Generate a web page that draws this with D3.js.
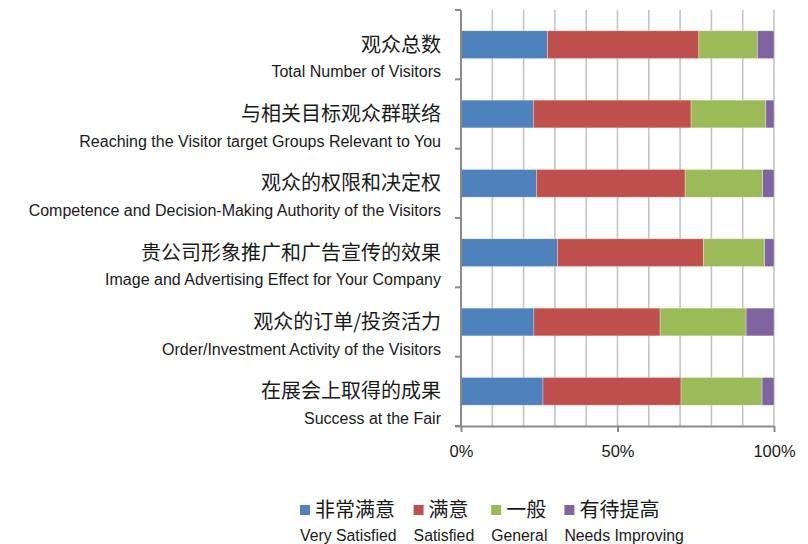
<!DOCTYPE html>
<html><head><meta charset="utf-8">
<script src="https://cdn.jsdelivr.net/npm/d3@7"></script>
<style>
html,body{margin:0;padding:0;background:#fff;}
svg{display:block;}
</style></head>
<body>
<svg id="chart" width="808" height="544"></svg>
<script>
const categoriesZh = ["观众总数","与相关目标观众群联络","观众的权限和决定权","贵公司形象推广和广告宣传的效果","观众的订单/投资活力","在展会上取得的成果"];
const categoriesEn = ["Total Number of Visitors","Reaching the Visitor target Groups Relevant to You","Competence and Decision-Making Authority of the Visitors","Image and Advertising Effect for Your Company","Order/Investment Activity of the Visitors","Success at the Fair"];
const seriesZh = ["非常满意","满意","一般","有待提高"];
const seriesEn = ["Very Satisfied","Satisfied","General","Needs Improving"];
const verySatisfied = [27.6, 23.1, 24.1, 30.8, 23.3, 26.2];
const satisfied     = [48.4, 50.4, 47.5, 46.6, 40.3, 44.1];
const general       = [18.7, 23.9, 24.8, 19.6, 27.5, 25.9];
const needsImproving= [5.3, 2.6, 3.6, 3.0, 8.9, 3.8];
const xTickValues = [0, 0.5, 1];
const colors = ["#4F81BD","#C0504D","#9BBB59","#8064A2"];

const seriesValues = [verySatisfied, satisfied, general, needsImproving];
const keys = seriesZh;
const rows = categoriesZh.map((c,i)=>{
  const r = {cat:c};
  keys.forEach((k,j)=> r[k]=seriesValues[j][i]);
  return r;
});

const svg = d3.select("#chart");
const pL = 461, pR = 774, pT = 10, pB = 426;
const x = d3.scaleLinear().domain([0,1]).range([pL,pR]);
const y = d3.scaleBand().domain(categoriesZh).range([pT,pB]).paddingInner(0.6).paddingOuter(0.3);
const color = d3.scaleOrdinal().domain(keys).range(colors);
const enFont = "'Liberation Sans', Arial, sans-serif";
const zhFont = "'Noto Sans CJK SC', sans-serif";

// gridlines
svg.append("g").selectAll("line").data(d3.range(1,11).map(d=>d/10)).join("line")
  .attr("x1",d=>x(d)).attr("x2",d=>x(d)).attr("y1",pT).attr("y2",pB)
  .attr("stroke","#c4c4c4").attr("stroke-width",1.6);

// bars
const stack = d3.stack().keys(keys).offset(d3.stackOffsetExpand);
const stacked = stack(rows);
svg.append("g").selectAll("g").data(stacked).join("g")
  .attr("fill",d=>color(d.key))
  .selectAll("rect").data(d=>d).join("rect")
  .attr("x",d=>x(d[0])).attr("width",d=>x(d[1])-x(d[0]))
  .attr("y",d=>y(d.data.cat)).attr("height",y.bandwidth())
  .attr("stroke","#ffffff").attr("stroke-opacity",0.5).attr("stroke-width",0.6);

// y axis line and category boundary ticks
const step = y.step();
svg.append("line").attr("x1",pL).attr("x2",pL).attr("y1",pT).attr("y2",pB)
  .attr("stroke","#8a8a8a").attr("stroke-width",2);
svg.append("g").selectAll("line").data(d3.range(0,categoriesZh.length+1)).join("line")
  .attr("x1",pL-6).attr("x2",pL).attr("y1",d=>pT+d*step).attr("y2",d=>pT+d*step)
  .attr("stroke","#8a8a8a").attr("stroke-width",2);

// x axis
const xAxis = d3.axisBottom(x).tickValues(xTickValues).tickFormat(d3.format(".0%")).tickSize(6).tickPadding(13);
const gx = svg.append("g").attr("transform",`translate(0,${pB})`).call(xAxis);
gx.select(".domain").attr("d",`M${pL-6},0.5H${pR}`).attr("stroke","#8a8a8a").attr("stroke-width",2);
gx.selectAll(".tick line").attr("stroke","#8a8a8a").attr("stroke-width",2);
gx.selectAll(".tick text").attr("font-family",enFont).attr("font-size",16.5).attr("fill","#1a1a1a");

// category labels
const lab = svg.append("g");
categoriesZh.forEach((c,i)=>{
  const cy = y(c) + y.bandwidth()/2;
  lab.append("text").attr("x",441).attr("y",cy).attr("dy","0.35em").attr("text-anchor","end")
    .attr("font-family",zhFont).attr("font-size",20).attr("fill","#1a1a1a").text(c);
  lab.append("text").attr("x",441).attr("y",cy+27).attr("dy","0.35em").attr("text-anchor","end")
    .attr("font-family",enFont).attr("font-size",16).attr("fill","#1a1a1a").text(categoriesEn[i]);
});

// legend
const lg = svg.append("g");
let lx = 300;
keys.forEach((k,i)=>{
  const g = lg.append("g").attr("transform",`translate(${lx},0)`);
  g.append("rect").attr("x",0).attr("y",505).attr("width",10).attr("height",10).attr("fill",color(k));
  const t1 = g.append("text").attr("x",15).attr("y",510).attr("dy","0.35em")
    .attr("font-family",zhFont).attr("font-size",20).attr("fill","#1a1a1a").text(k);
  const t2 = g.append("text").attr("x",0).attr("y",535).attr("dy","0.35em")
    .attr("font-family",enFont).attr("font-size",15.8).attr("fill","#1a1a1a").text(seriesEn[i]);
  const w = Math.max(15 + t1.node().getComputedTextLength(), t2.node().getComputedTextLength());
  lx += w + 17;
});
</script>
</body></html>
